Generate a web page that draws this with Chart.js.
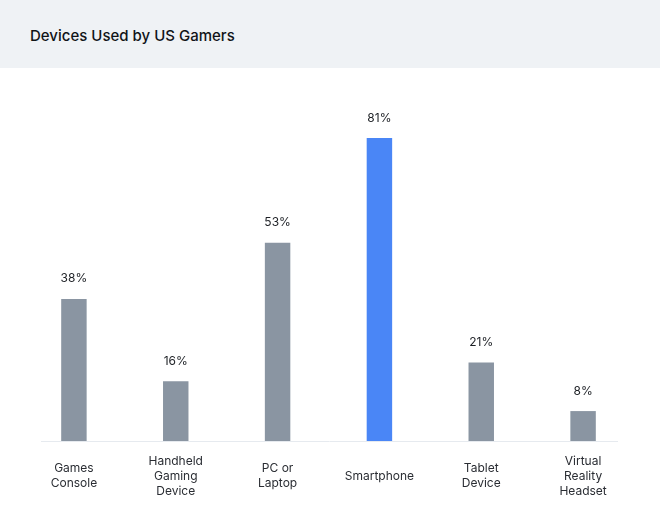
<!DOCTYPE html>
<html>
<head>
<meta charset="utf-8">
<script src="https://cdn.jsdelivr.net/npm/chart.js@4/dist/chart.umd.min.js"></script>
<style>
  html, body { margin: 0; padding: 0; background: #ffffff; }
  #wrap { position: relative; width: 660px; height: 515px; overflow: hidden; }
  #header { position: absolute; left: 0; top: 0; width: 660px; height: 68px; background: #eff2f5; }
  #title { position: absolute; left: 30px; top: 25px; font-family: Inter, "Noto Sans", sans-serif; font-size: 15px; font-weight: 500; color: #111418; line-height: 22px; }
  #c { position: absolute; left: 0; top: 0; }
</style>
</head>
<body>
<div id="wrap">
  <div id="header"><div id="title">Devices Used by US Gamers</div></div>
  <canvas id="c" width="660" height="515"></canvas>
</div>
<script>
const categories = [
  ["Games", "Console"],
  ["Handheld", "Gaming", "Device"],
  ["PC or", "Laptop"],
  ["Smartphone"],
  ["Tablet", "Device"],
  ["Virtual", "Reality", "Headset"]
];
const shares = [38, 16, 53, 81, 21, 8];
const highlightIndex = 3;
const grayColor = "#8a95a2";
const blueColor = "#4a86f6";

const valueLabels = {
  id: "valueLabels",
  afterDatasetsDraw(chart) {
    const ctx = chart.ctx;
    const meta = chart.getDatasetMeta(0);
    ctx.save();
    ctx.font = "400 12px Inter, 'Noto Sans', sans-serif";
    ctx.fillStyle = "#1c1f24";
    ctx.textAlign = "center";
    ctx.textBaseline = "middle";
    meta.data.forEach((bar, i) => {
      ctx.fillText(shares[i] + "%", bar.x, bar.y - 20);
    });
    ctx.restore();
  }
};

const baseLine = {
  id: "baseLine",
  beforeDatasetsDraw(chart) {
    const ctx = chart.ctx;
    const y = Math.round(chart.scales.y.getPixelForValue(0)) + 0.5;
    const a = chart.chartArea;
    ctx.save();
    ctx.strokeStyle = "#e6eaef";
    ctx.lineWidth = 1;
    ctx.beginPath();
    ctx.moveTo(a.left + 18, y);
    ctx.lineTo(a.right - 16, y);
    ctx.stroke();
    ctx.restore();
  }
};

new Chart(document.getElementById("c"), {
  type: "bar",
  data: {
    labels: categories,
    datasets: [{
      data: shares,
      backgroundColor: shares.map((v, i) => i === highlightIndex ? blueColor : grayColor),
      borderWidth: 0,
      categoryPercentage: 1,
      barPercentage: 0.25
    }]
  },
  options: {
    responsive: false,
    animation: false,
    devicePixelRatio: 1,
    layout: { padding: { top: 67, bottom: 0, left: 23, right: 26 } },
    plugins: { legend: { display: false }, tooltip: { enabled: false }, title: { display: false } },
    scales: {
      x: {
        grid: { display: false, drawTicks: false },
        border: { display: false },
        afterFit(scale) { scale.height = 74; },
        ticks: {
          padding: 20,
          crossAlign: "center",
          color: "#2a2d33",
          font: { family: "Inter, 'Noto Sans', sans-serif", size: 12, lineHeight: 1.27 },
          maxRotation: 0,
          autoSkip: false
        }
      },
      y: {
        display: false,
        min: 0,
        max: 100
      }
    }
  },
  plugins: [baseLine, valueLabels]
});
</script>
</body>
</html>
